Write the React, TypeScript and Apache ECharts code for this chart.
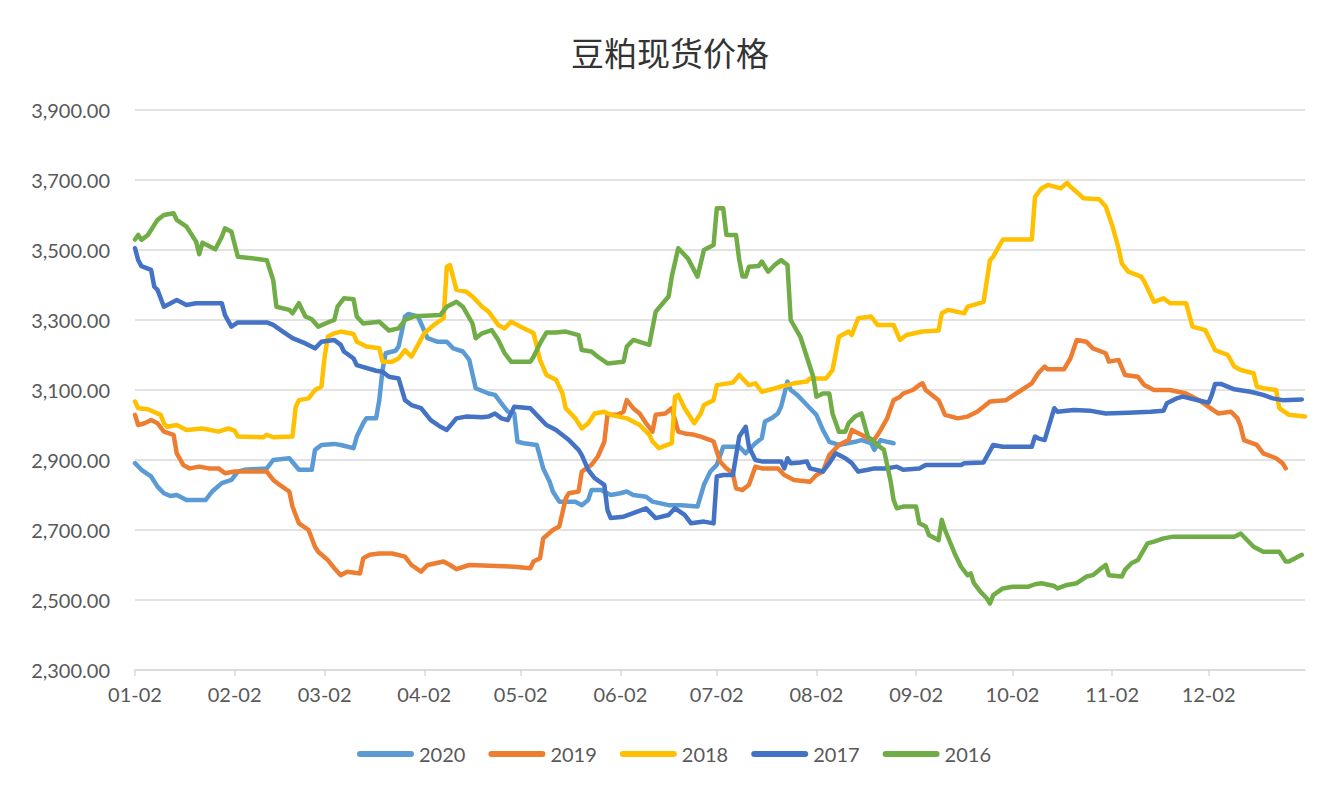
import React, { useEffect, useRef } from "react";
import * as echarts from "echarts";

const TITLE = "豆粕现货价格";
const YEARS = ["2020", "2019", "2018", "2017", "2016"];
const COLORS = ["#5B9BD5", "#ED7D31", "#FFC000", "#4472C4", "#70AD47"];
const Y_MIN = 2300;
const Y_MAX = 3900;
const Y_STEP = 200;

// x-axis categories: every calendar day from 01-02 to 01-01 of the next year
const categories: string[] = [];
{
  const start = Date.UTC(2021, 0, 2);
  for (let i = 0; i < 365; i++) {
    const d = new Date(start + i * 86400000);
    categories.push(
      String(d.getUTCMonth() + 1).padStart(2, "0") + "-" + String(d.getUTCDate()).padStart(2, "0")
    );
  }
}

const s2020: [string, number][] = [
  ["01-02", 2891], ["01-04", 2872], ["01-07", 2853], ["01-09", 2824], ["01-11", 2805], ["01-13", 2797],
  ["01-15", 2800], ["01-18", 2786], ["01-24", 2786], ["01-26", 2810], ["01-29", 2834], ["02-01", 2843],
  ["02-03", 2867], ["02-05", 2872], ["02-12", 2876], ["02-14", 2900], ["02-19", 2905], ["02-22", 2872],
  ["02-26", 2872], ["02-27", 2929], ["03-01", 2943], ["03-05", 2946], ["03-07", 2943], ["03-11", 2934],
  ["03-12", 2967], ["03-14", 3005], ["03-15", 3019], ["03-18", 3019], ["03-19", 3071], ["03-20", 3157],
  ["03-21", 3205], ["03-24", 3212], ["03-25", 3224], ["03-27", 3310], ["03-28", 3317], ["03-31", 3310],
  ["04-01", 3290], ["04-03", 3248], ["04-06", 3238], ["04-09", 3238], ["04-11", 3219], ["04-14", 3210],
  ["04-16", 3186], ["04-18", 3105], ["04-22", 3090], ["04-24", 3086], ["04-26", 3062], ["04-28", 3038],
  ["04-30", 3033], ["05-01", 2952], ["05-03", 2948], ["05-07", 2943], ["05-09", 2876], ["05-11", 2838],
  ["05-12", 2810], ["05-14", 2781], ["05-19", 2781], ["05-21", 2771], ["05-23", 2786], ["05-24", 2814],
  ["05-27", 2814], ["05-30", 2800], ["06-02", 2805], ["06-04", 2810], ["06-06", 2800], ["06-10", 2795],
  ["06-12", 2781], ["06-17", 2771], ["06-21", 2771], ["06-26", 2767], ["06-28", 2829], ["06-30", 2867],
  ["07-02", 2886], ["07-04", 2938], ["07-09", 2938], ["07-11", 2919], ["07-12", 2929], ["07-14", 2948],
  ["07-16", 2962], ["07-17", 3010], ["07-19", 3019], ["07-21", 3033], ["07-22", 3052], ["07-24", 3124],
  ["07-25", 3100], ["07-27", 3086], ["07-29", 3067], ["07-31", 3048], ["08-02", 3029], ["08-04", 2986],
  ["08-06", 2952], ["08-09", 2943], ["08-14", 2952], ["08-16", 2957], ["08-19", 2948], ["08-20", 2929],
  ["08-22", 2957], ["08-24", 2952], ["08-26", 2948],
];

const s2019: [string, number][] = [
  ["01-02", 3029], ["01-03", 3000], ["01-05", 3005], ["01-07", 3014], ["01-09", 3005], ["01-11", 2981],
  ["01-14", 2972], ["01-15", 2919], ["01-17", 2886], ["01-19", 2876], ["01-22", 2881], ["01-25", 2876],
  ["01-28", 2876], ["01-30", 2862], ["02-02", 2867], ["02-12", 2867], ["02-14", 2843], ["02-16", 2829],
  ["02-19", 2810], ["02-20", 2767], ["02-22", 2719], ["02-25", 2700], ["02-27", 2652], ["02-28", 2638],
  ["03-03", 2614], ["03-05", 2591], ["03-07", 2571], ["03-09", 2581], ["03-13", 2576], ["03-14", 2619],
  ["03-16", 2629], ["03-19", 2633], ["03-23", 2633], ["03-27", 2624], ["03-29", 2600], ["04-01", 2581],
  ["04-03", 2600], ["04-08", 2610], ["04-10", 2600], ["04-12", 2588], ["04-16", 2600], ["04-30", 2595],
  ["05-05", 2591], ["05-06", 2610], ["05-08", 2619], ["05-09", 2676], ["05-12", 2700], ["05-14", 2710],
  ["05-16", 2790], ["05-17", 2805], ["05-20", 2810], ["05-21", 2867], ["05-24", 2886], ["05-26", 2910],
  ["05-28", 2952], ["05-29", 3029], ["06-01", 3029], ["06-03", 3038], ["06-04", 3071], ["06-06", 3048],
  ["06-08", 3033], ["06-10", 3005], ["06-12", 2981], ["06-13", 3029], ["06-16", 3033], ["06-18", 3048],
  ["06-20", 2981], ["06-22", 2976], ["06-25", 2972], ["06-27", 2967], ["06-30", 2957], ["07-01", 2953],
  ["07-03", 2896], ["07-05", 2876], ["07-07", 2862], ["07-08", 2819], ["07-10", 2814], ["07-12", 2829],
  ["07-14", 2881], ["07-16", 2876], ["07-21", 2876], ["07-23", 2857], ["07-26", 2843], ["07-31", 2838],
  ["08-02", 2857], ["08-04", 2867], ["08-06", 2914], ["08-09", 2943], ["08-12", 2957], ["08-13", 2986],
  ["08-16", 2972], ["08-18", 2962], ["08-20", 2957], ["08-22", 2986], ["08-24", 3019], ["08-26", 3071],
  ["08-28", 3081], ["08-29", 3090], ["09-01", 3100], ["09-03", 3114], ["09-04", 3119], ["09-05", 3100],
  ["09-09", 3071], ["09-11", 3029], ["09-15", 3019], ["09-18", 3024], ["09-21", 3038], ["09-23", 3052],
  ["09-25", 3067], ["09-30", 3071], ["10-04", 3095], ["10-08", 3119], ["10-10", 3148], ["10-12", 3167],
  ["10-13", 3159], ["10-18", 3159], ["10-20", 3190], ["10-22", 3243], ["10-25", 3238], ["10-27", 3219],
  ["10-31", 3205], ["11-01", 3181], ["11-04", 3186], ["11-06", 3143], ["11-10", 3138], ["11-12", 3114],
  ["11-15", 3100], ["11-20", 3100], ["11-25", 3090], ["11-29", 3071], ["12-02", 3052], ["12-05", 3033],
  ["12-09", 3038], ["12-11", 3019], ["12-12", 2995], ["12-13", 2957], ["12-17", 2943], ["12-19", 2919],
  ["12-23", 2905], ["12-25", 2891], ["12-26", 2876],
];

const s2018: [string, number][] = [
  ["01-02", 3067], ["01-03", 3048], ["01-06", 3045], ["01-10", 3029], ["01-11", 3005], ["01-12", 2995],
  ["01-15", 3000], ["01-18", 2986], ["01-23", 2990], ["01-28", 2981], ["01-31", 2990], ["02-02", 2984],
  ["02-03", 2967], ["02-11", 2965], ["02-12", 2972], ["02-14", 2965], ["02-20", 2967], ["02-21", 3052],
  ["02-22", 3071], ["02-25", 3076], ["02-27", 3100], ["03-01", 3110], ["03-02", 3195], ["03-03", 3252],
  ["03-05", 3262], ["03-07", 3267], ["03-11", 3260], ["03-12", 3238], ["03-15", 3224], ["03-19", 3219],
  ["03-20", 3181], ["03-23", 3181], ["03-25", 3190], ["03-27", 3214], ["03-29", 3195], ["04-02", 3262],
  ["04-05", 3286], ["04-08", 3305], ["04-09", 3452], ["04-10", 3457], ["04-12", 3386], ["04-15", 3381],
  ["04-17", 3367], ["04-20", 3338], ["04-22", 3324], ["04-25", 3286], ["04-27", 3276], ["04-29", 3295],
  ["05-02", 3281], ["05-05", 3267], ["05-06", 3262], ["05-08", 3186], ["05-10", 3143], ["05-13", 3129],
  ["05-15", 3090], ["05-16", 3048], ["05-19", 3019], ["05-21", 2990], ["05-23", 3005], ["05-25", 3033],
  ["05-28", 3038], ["05-30", 3029], ["06-04", 3019], ["06-08", 3000], ["06-11", 2972], ["06-12", 2953],
  ["06-14", 2934], ["06-18", 2948], ["06-19", 3081], ["06-20", 3086], ["06-22", 3048], ["06-25", 3005],
  ["06-27", 3033], ["06-28", 3057], ["07-01", 3071], ["07-02", 3114], ["07-07", 3121], ["07-09", 3143],
  ["07-10", 3133], ["07-12", 3114], ["07-14", 3119], ["07-16", 3095], ["07-19", 3102], ["07-22", 3110],
  ["07-24", 3114], ["07-26", 3119], ["07-30", 3124], ["07-31", 3133], ["08-05", 3133], ["08-07", 3157],
  ["08-09", 3252], ["08-12", 3267], ["08-13", 3257], ["08-15", 3305], ["08-19", 3310], ["08-21", 3286],
  ["08-26", 3286], ["08-28", 3243], ["08-30", 3257], ["09-04", 3267], ["09-09", 3270], ["09-10", 3319],
  ["09-12", 3329], ["09-17", 3319], ["09-18", 3338], ["09-20", 3343], ["09-23", 3352], ["09-25", 3471],
  ["09-26", 3481], ["09-28", 3514], ["09-29", 3530], ["10-08", 3530], ["10-09", 3652], ["10-11", 3676],
  ["10-13", 3686], ["10-15", 3681], ["10-17", 3676], ["10-19", 3692], ["10-20", 3681], ["10-23", 3657],
  ["10-24", 3648], ["10-29", 3645], ["10-31", 3624], ["11-02", 3571], ["11-04", 3505], ["11-05", 3462],
  ["11-07", 3438], ["11-11", 3424], ["11-12", 3410], ["11-15", 3352], ["11-18", 3362], ["11-20", 3348],
  ["11-25", 3348], ["11-27", 3281], ["12-01", 3271], ["12-04", 3214], ["12-08", 3200], ["12-10", 3167],
  ["12-12", 3157], ["12-16", 3148], ["12-17", 3110], ["12-19", 3105], ["12-23", 3100], ["12-24", 3048],
  ["12-27", 3029], ["01-01", 3024],
];

const s2017: [string, number][] = [
  ["01-02", 3505], ["01-03", 3471], ["01-04", 3454], ["01-07", 3443], ["01-08", 3395], ["01-09", 3386],
  ["01-11", 3338], ["01-15", 3357], ["01-18", 3343], ["01-21", 3348], ["01-29", 3348], ["01-30", 3314],
  ["02-01", 3281], ["02-03", 3293], ["02-12", 3293], ["02-14", 3286], ["02-17", 3267], ["02-20", 3248],
  ["02-24", 3233], ["02-27", 3219], ["03-01", 3238], ["03-05", 3243], ["03-07", 3229], ["03-08", 3210],
  ["03-11", 3190], ["03-12", 3171], ["03-18", 3155], ["03-20", 3152], ["03-22", 3138], ["03-25", 3133],
  ["03-27", 3071], ["03-29", 3057], ["04-01", 3048], ["04-04", 3014], ["04-07", 2995], ["04-09", 2986],
  ["04-12", 3019], ["04-15", 3024], ["04-20", 3022], ["04-22", 3024], ["04-24", 3033], ["04-26", 3019],
  ["04-28", 3014], ["04-30", 3052], ["05-05", 3048], ["05-08", 3019], ["05-10", 3000], ["05-13", 2986],
  ["05-17", 2957], ["05-20", 2929], ["05-21", 2914], ["05-23", 2872], ["05-25", 2848], ["05-28", 2829],
  ["05-29", 2757], ["05-30", 2734], ["06-03", 2738], ["06-06", 2748], ["06-10", 2762], ["06-13", 2734],
  ["06-17", 2743], ["06-19", 2762], ["06-22", 2743], ["06-24", 2719], ["06-28", 2724], ["07-01", 2719],
  ["07-02", 2853], ["07-04", 2857], ["07-07", 2857], ["07-09", 2967], ["07-11", 2995], ["07-12", 2938],
  ["07-14", 2900], ["07-16", 2896], ["07-22", 2896], ["07-23", 2876], ["07-24", 2905], ["07-25", 2891],
  ["07-28", 2893], ["07-30", 2896], ["07-31", 2876], ["08-04", 2867], ["08-06", 2891], ["08-08", 2919],
  ["08-11", 2905], ["08-13", 2891], ["08-15", 2867], ["08-18", 2872], ["08-20", 2876], ["08-24", 2876],
  ["08-27", 2881], ["08-29", 2872], ["09-03", 2876], ["09-05", 2886], ["09-10", 2886], ["09-16", 2886],
  ["09-17", 2891], ["09-23", 2893], ["09-26", 2943], ["09-29", 2938], ["10-08", 2938], ["10-09", 2967],
  ["10-10", 2962], ["10-12", 2957], ["10-15", 3048], ["10-16", 3038], ["10-21", 3043], ["10-26", 3041],
  ["10-31", 3033], ["11-07", 3035], ["11-14", 3038], ["11-18", 3041], ["11-19", 3062], ["11-22", 3076],
  ["11-24", 3081], ["11-29", 3070], ["12-02", 3064], ["12-03", 3086], ["12-04", 3117], ["12-06", 3117],
  ["12-10", 3102], ["12-15", 3095], ["12-19", 3086], ["12-22", 3076], ["12-25", 3071], ["12-31", 3073],
];

const s2016: [string, number][] = [
  ["01-02", 3530], ["01-03", 3543], ["01-04", 3529], ["01-06", 3543], ["01-09", 3586], ["01-11", 3600],
  ["01-14", 3605], ["01-15", 3586], ["01-18", 3567], ["01-21", 3524], ["01-22", 3488], ["01-23", 3521],
  ["01-27", 3502], ["01-29", 3538], ["01-30", 3562], ["02-01", 3552], ["02-03", 3481], ["02-12", 3471],
  ["02-14", 3414], ["02-15", 3338], ["02-19", 3329], ["02-20", 3319], ["02-22", 3348], ["02-24", 3310],
  ["02-26", 3302], ["02-28", 3281], ["03-03", 3293], ["03-05", 3300], ["03-06", 3338], ["03-08", 3362],
  ["03-11", 3359], ["03-12", 3310], ["03-14", 3290], ["03-19", 3295], ["03-22", 3270], ["03-25", 3276],
  ["03-27", 3300], ["03-30", 3311], ["04-07", 3314], ["04-09", 3338], ["04-12", 3352], ["04-14", 3338],
  ["04-17", 3290], ["04-18", 3248], ["04-20", 3262], ["04-23", 3271], ["04-25", 3243], ["04-27", 3205],
  ["04-29", 3181], ["05-05", 3181], ["05-06", 3195], ["05-08", 3233], ["05-10", 3264], ["05-13", 3264],
  ["05-16", 3267], ["05-20", 3257], ["05-21", 3214], ["05-24", 3210], ["05-26", 3195], ["05-29", 3176],
  ["06-03", 3181], ["06-04", 3224], ["06-06", 3243], ["06-11", 3229], ["06-13", 3324], ["06-17", 3367],
  ["06-18", 3424], ["06-20", 3505], ["06-23", 3476], ["06-26", 3424], ["06-28", 3500], ["07-01", 3514],
  ["07-02", 3619], ["07-04", 3619], ["07-05", 3543], ["07-08", 3543], ["07-09", 3471], ["07-10", 3424],
  ["07-11", 3424], ["07-12", 3452], ["07-15", 3454], ["07-16", 3467], ["07-18", 3438], ["07-20", 3457],
  ["07-22", 3471], ["07-24", 3457], ["07-25", 3300], ["07-28", 3252], ["07-30", 3195], ["08-01", 3138],
  ["08-02", 3081], ["08-04", 3090], ["08-06", 3090], ["08-07", 3033], ["08-09", 2981], ["08-11", 2981],
  ["08-12", 3005], ["08-14", 3024], ["08-16", 3033], ["08-18", 2967], ["08-21", 2943], ["08-23", 2929],
  ["08-25", 2843], ["08-26", 2786], ["08-27", 2762], ["08-29", 2767], ["08-31", 2767], ["09-02", 2767],
  ["09-03", 2719], ["09-05", 2710], ["09-06", 2686], ["09-07", 2681], ["09-09", 2671], ["09-10", 2729],
  ["09-11", 2700], ["09-14", 2633], ["09-16", 2595], ["09-18", 2571], ["09-19", 2576], ["09-20", 2548],
  ["09-22", 2524], ["09-24", 2505], ["09-25", 2490], ["09-26", 2514], ["09-29", 2533], ["10-02", 2538],
  ["10-07", 2538], ["10-09", 2545], ["10-11", 2548], ["10-15", 2540], ["10-16", 2533], ["10-19", 2543],
  ["10-22", 2548], ["10-25", 2567], ["10-27", 2571], ["10-29", 2586], ["10-31", 2600], ["11-01", 2571],
  ["11-05", 2567], ["11-06", 2586], ["11-08", 2605], ["11-10", 2614], ["11-13", 2662], ["11-15", 2667],
  ["11-18", 2676], ["11-21", 2681], ["12-10", 2681], ["12-12", 2690], ["12-16", 2652], ["12-19", 2638],
  ["12-24", 2638], ["12-26", 2610], ["12-27", 2610], ["12-31", 2629],
];

const SERIES_DATA = [s2020, s2019, s2018, s2017, s2016];

const FONT = "Lato, 'Noto Sans', sans-serif";
const LEGEND_ICON = "path://M3,0 H54 A3,3 0 0 1 54,6 H3 A3,3 0 0 1 3,0 Z";

export default function App() {
  const ref = useRef<HTMLDivElement>(null);

  useEffect(() => {
    if (!ref.current) return;
    const chart = echarts.init(ref.current, undefined, { renderer: "svg" });
    const isMonthTick = (_i: number, v: string) => String(v).endsWith("-02");
    chart.setOption({
      animation: false,
      backgroundColor: "#ffffff",
      title: {
        text: TITLE,
        left: 571,
        top: 35,
        padding: 0,
        textStyle: {
          fontFamily: "'Noto Sans CJK SC', sans-serif",
          fontSize: 33,
          fontWeight: "normal",
          color: "#333333",
        },
      },
      legend: {
        data: YEARS,
        left: 357,
        top: 744,
        padding: 0,
        icon: LEGEND_ICON,
        itemWidth: 57,
        itemHeight: 6,
        itemGap: 23,
        textStyle: { fontFamily: FONT, fontSize: 20, color: "#595959" },
      },
      grid: { left: 135, right: 18, top: 110, bottom: 124, containLabel: false },
      xAxis: {
        type: "category",
        data: categories,
        boundaryGap: false,
        axisLine: { lineStyle: { color: "#d9d9d9", width: 1.5 } },
        axisTick: { show: true, interval: isMonthTick, length: 6, lineStyle: { color: "#d9d9d9", width: 1.5 } },
        axisLabel: {
          interval: isMonthTick,
          margin: 14,
          fontFamily: FONT,
          fontSize: 20,
          color: "#595959",
        },
        splitLine: { show: false },
      },
      yAxis: {
        type: "value",
        min: Y_MIN,
        max: Y_MAX,
        interval: Y_STEP,
        axisLine: { show: false },
        axisTick: { show: false },
        axisLabel: {
          margin: 25,
          fontFamily: FONT,
          fontSize: 20,
          color: "#595959",
          formatter: (v: number) =>
            v.toLocaleString("en-US", { minimumFractionDigits: 2, maximumFractionDigits: 2 }),
        },
        splitLine: { lineStyle: { color: "#d9d9d9", width: 1.5 } },
      },
      series: YEARS.map((name, i) => ({
        name,
        type: "line",
        data: SERIES_DATA[i],
        showSymbol: false,
        symbol: "none",
        smooth: false,
        color: COLORS[i],
        lineStyle: { color: COLORS[i], width: 4.5, cap: "round", join: "round" },
      })),
    });
    return () => chart.dispose();
  }, []);

  return (
    <div
      ref={ref}
      style={{ position: "fixed", left: 0, top: 0, width: 1323, height: 794 }}
    />
  );
}
